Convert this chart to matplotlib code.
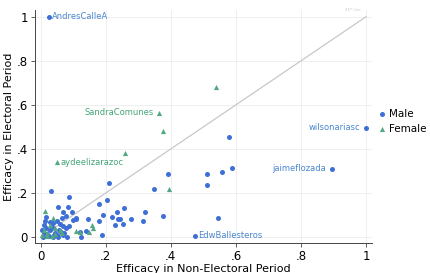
import matplotlib
matplotlib.use('Agg')
import matplotlib.pyplot as plt

# Male legislators: efficacy non-electoral (x) vs electoral (y)
male_x = [0.025, 1.0, 0.895, 0.474, 0.58, 0.588, 0.557, 0.545, 0.51, 0.51, 0.39, 0.348,
          0.21, 0.031, 0.087, 0.053, 0.084, 0.178, 0.204, 0.256, 0.32, 0.375, 0.277, 0.235,
          0.19, 0.218, 0.245, 0.313, 0.146, 0.107, 0.12, 0.123, 0.187, 0.228, 0.253, 0.14,
          0.18, 0.237, 0.068, 0.095, 0.077, 0.065, 0.049, 0.038, 0.012, 0.009, 0.003, 0.028,
          0.006, 0.098, 0.108, 0.077, 0.068, 0.052, 0.037, 0.08, 0.062, 0.02, 0.045, 0.015,
          0.035, 0.055, 0.07, 0.01, 0.04, 0.06, 0.025, 0.05, 0.088, 0.03, 0.016, 0.072]
male_y = [1.0, 0.495, 0.31, 0.005, 0.455, 0.314, 0.295, 0.086, 0.287, 0.237, 0.287, 0.218,
          0.245, 0.208, 0.18, 0.137, 0.137, 0.152, 0.166, 0.13, 0.113, 0.096, 0.08, 0.112,
          0.1, 0.09, 0.08, 0.073, 0.08, 0.08, 0.025, 0.0, 0.01, 0.055, 0.06, 0.027,
          0.073, 0.082, 0.114, 0.114, 0.095, 0.086, 0.073, 0.063, 0.073, 0.055, 0.032, 0.032,
          0.0, 0.077, 0.086, 0.04, 0.01, 0.0, 0.0, 0.0, 0.023, 0.015, 0.02, 0.04,
          0.045, 0.03, 0.05, 0.02, 0.008, 0.06, 0.005, 0.01, 0.05, 0.07, 0.09, 0.02]

# Female legislators
female_x = [0.363, 0.375, 0.54, 0.258, 0.394, 0.049, 0.012, 0.037, 0.03, 0.043, 0.018,
            0.058, 0.003, 0.034, 0.11, 0.157, 0.16, 0.15, 0.12, 0.02, 0.045, 0.065, 0.01]
female_y = [0.565, 0.48, 0.68, 0.38, 0.22, 0.34, 0.118, 0.086, 0.055, 0.04, 0.018,
            0.032, 0.01, 0.005, 0.027, 0.055, 0.04, 0.023, 0.023, 0.005, 0.015, 0.02, 0.03]

# labelled points: name, x, y, gender, side
labels = [('AndresCalleA', 0.025, 1.0, 'Male', 'right'),
          ('wilsonariasc', 1.0, 0.495, 'Male', 'left'),
          ('jaimeflozada', 0.895, 0.31, 'Male', 'left'),
          ('EdwBallesteros', 0.474, 0.005, 'Male', 'right'),
          ('SandraComunes', 0.363, 0.565, 'Female', 'left'),
          ('aydeelizarazoc', 0.049, 0.34, 'Female', 'right')]

blue = '#3d6fd6'
green = '#52a882'
label_col = {'Male': '#4a86cf', 'Female': '#45a47a'}

fig = plt.figure(figsize=(4.3, 2.73), dpi=100)
ax = fig.add_axes([0.081, 0.11, 0.784, 0.853])

ticks = [0, 0.2, 0.4, 0.6, 0.8, 1.0]
ticklabels = ['0', '.2', '.4', '.6', '.8', '1']
for t in ticks:
    ax.axhline(t, color='#ededed', lw=0.6, zorder=0)
    ax.axvline(t, color='#ededed', lw=0.6, zorder=0)

ax.plot([0, 1], [0, 1], color='#c8c8c8', lw=0.9, zorder=1)
ax.text(0.985, 1.02, '45º line', fontsize=3, color='#cccccc', ha='right', va='bottom')

ax.scatter(male_x, male_y, s=13, color=blue, marker='o', lw=0, zorder=3, label='Male')
ax.scatter(female_x, female_y, s=14, color=green, marker='^', lw=0, zorder=4, label='Female')

for name, x, y, g, side in labels:
    if side == 'right':
        ax.annotate(name, (x, y), xytext=(2.5, 0), textcoords='offset points',
                    ha='left', va='center', fontsize=6, color=label_col[g])
    else:
        ax.annotate(name, (x, y), xytext=(-4, 0), textcoords='offset points',
                    ha='right', va='center', fontsize=6, color=label_col[g])

ax.set_xlim(-0.018, 1.018)
ax.set_ylim(-0.027, 1.03)
ax.set_xticks(ticks)
ax.set_xticklabels(ticklabels)
ax.set_yticks(ticks)
ax.set_yticklabels(ticklabels)
ax.tick_params(labelsize=8.5, length=3, width=0.6, color='#444444', pad=2)
for s in ['top', 'right']:
    ax.spines[s].set_visible(False)
for s in ['left', 'bottom']:
    ax.spines[s].set_color('#444444')
    ax.spines[s].set_linewidth(0.7)

ax.set_xlabel('Efficacy in Non-Electoral Period', fontsize=8, labelpad=1)
ax.set_ylabel('Efficacy in Electoral Period', fontsize=8, labelpad=2)

fig.legend(loc='center left', bbox_to_anchor=(0.878, 0.555), frameon=False,
           fontsize=7.5, handletextpad=0.3, markerscale=1.0, labelspacing=0.5,
           borderaxespad=0, borderpad=0, handlelength=0.8)

fig.savefig('out.png', dpi=100)
